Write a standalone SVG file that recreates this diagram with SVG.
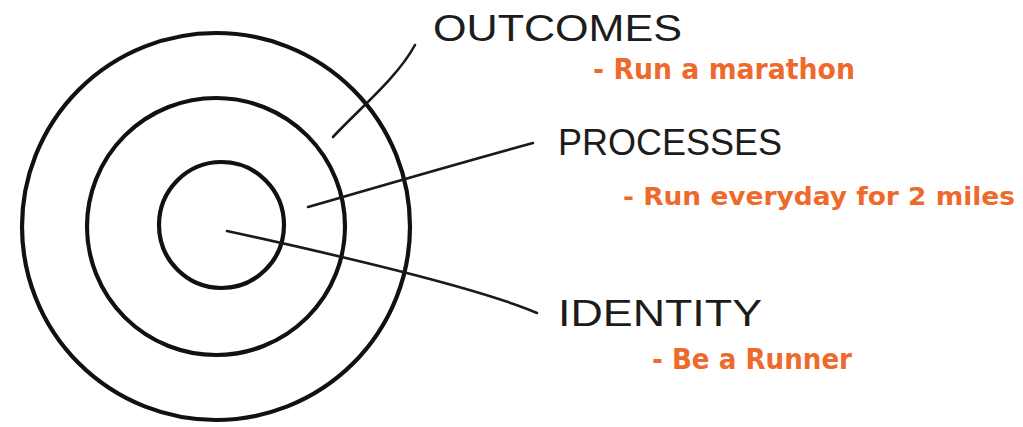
<svg xmlns="http://www.w3.org/2000/svg" width="1023" height="427" viewBox="0 0 1023 427">
  <style>
    .ring { fill: none; stroke: #111; stroke-width: 4.2; }
    .leader { fill: none; stroke: #1a1a1a; stroke-width: 2.6; stroke-linecap: round; }
    .hand { font-family: "Liberation Sans", "DejaVu Sans", sans-serif; font-size: 37px; fill: #1c1c1c; font-weight: normal; }
    .note { font-family: "DejaVu Sans", "Liberation Sans", sans-serif; font-size: 29px; font-weight: bold; fill: #EE6A2C; }
    .note.long { font-size: 25.5px; }
  </style>
  <rect width="1023" height="427" fill="#ffffff"/>
  <g id="rings">
    <ellipse id="outcomes-ring" class="ring" cx="216" cy="226.5" rx="194" ry="193.5"/>
    <ellipse id="processes-ring" class="ring" cx="216" cy="226.5" rx="129" ry="128.5"/>
    <ellipse id="identity-ring" class="ring" cx="221.5" cy="225" rx="62.5" ry="63"/>
  </g>
  <g id="connectors">
    <path class="leader" d="M333,137 C360,108 397,78 415,45"/>
    <path class="leader" d="M308,207 Q470,160 533,143"/>
    <path class="leader" d="M227,231 Q470,284 537,313"/>
  </g>
  <g id="outcomes">
    <text class="hand" x="433" y="41" textLength="249" lengthAdjust="spacingAndGlyphs">OUTCOMES</text>
    <text class="note" x="593" y="79" textLength="262" lengthAdjust="spacingAndGlyphs">- Run a marathon</text>
  </g>
  <g id="processes">
    <text class="hand" x="558" y="155" textLength="224" lengthAdjust="spacingAndGlyphs">PROCESSES</text>
    <text class="note long" x="623" y="205" textLength="392" lengthAdjust="spacingAndGlyphs">- Run everyday for 2 miles</text>
  </g>
  <g id="identity">
    <text class="hand" x="558" y="326" textLength="204" lengthAdjust="spacingAndGlyphs">IDENTITY</text>
    <text class="note" x="652" y="369" textLength="200" lengthAdjust="spacingAndGlyphs">- Be a Runner</text>
  </g>
</svg>
